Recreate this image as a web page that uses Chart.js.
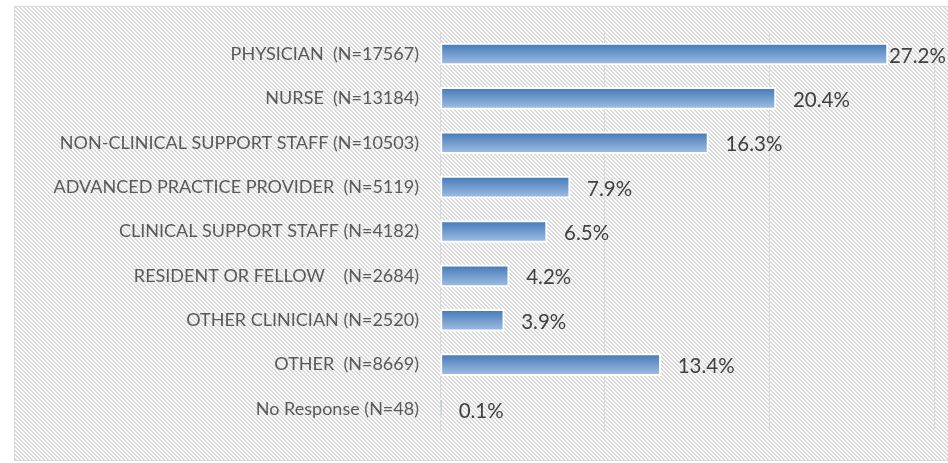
<!DOCTYPE html>
<html>
<head>
<meta charset="utf-8">
<style>
  html, body { margin: 0; padding: 0; background: #fff; }
  #wrap { width: 948px; height: 463px; position: relative; }
</style>
</head>
<body>
<div id="wrap">
  <canvas id="myChart"></canvas>
</div>

<script src="https://cdn.jsdelivr.net/npm/chart.js"></script>

<script>
  const categories = [
    'PHYSICIAN  (N=17567)',
    'NURSE  (N=13184)',
    'NON-CLINICAL SUPPORT STAFF (N=10503)',
    'ADVANCED PRACTICE PROVIDER  (N=5119)',
    'CLINICAL SUPPORT STAFF (N=4182)',
    'RESIDENT OR FELLOW    (N=2684)',
    'OTHER CLINICIAN (N=2520)',
    'OTHER  (N=8669)',
    'No Response (N=48)'
  ];
  const percents = [27.2, 20.4, 16.3, 7.9, 6.5, 4.2, 3.9, 13.4, 0.1];
  const xTicks = [0, 10, 20, 30];

  // striped background like the excel chart area
  function makeHatch(ctx) {
    const tile = document.createElement('canvas');
    tile.width = 4; tile.height = 4;
    const t = tile.getContext('2d');
    const img = t.createImageData(4, 4);
    for (let y = 0; y < 4; y++) {
      for (let x = 0; x < 4; x++) {
        const i = (y * 4 + x) * 4;
        const on = ((x - y + 8) % 4) < 2;
        const c = on ? 217 : 255;
        img.data[i] = c; img.data[i + 1] = c; img.data[i + 2] = c; img.data[i + 3] = 255;
      }
    }
    t.putImageData(img, 0, 0);
    return ctx.createPattern(tile, 'repeat');
  }

  const background = {
    id: 'background',
    beforeDraw(chart) {
      const c = chart.ctx;
      c.save();
      c.fillStyle = '#ffffff';
      c.fillRect(0, 0, chart.width, chart.height);
      c.fillStyle = makeHatch(c);
      c.fillRect(14, 6, chart.width - 14, 455);
      c.strokeStyle = '#d9d9d9';
      c.lineWidth = 1;
      c.strokeRect(14.5, 6.5, chart.width, 454);
      c.restore();
    }
  };

  const valueLabels = {
    id: 'valueLabels',
    afterDatasetsDraw(chart) {
      const c = chart.ctx;
      const meta = chart.getDatasetMeta(0);
      c.save();
      c.font = '20.5px Lato, sans-serif';
      c.fillStyle = '#404040';
      c.textBaseline = 'middle';
      c.textAlign = 'left';
      meta.data.forEach((bar, i) => {
        const txt = percents[i].toFixed(1) + '%';
        let x = bar.x + 17;
        if (x + c.measureText(txt).width > chart.width) x = bar.x + 1;
        c.fillText(txt, x, bar.y + 2);
      });
      c.restore();
    }
  };

  function barFill(context) {
    const chart = context.chart;
    const y = chart.scales && chart.scales.y;
    const cy = y ? y.getPixelForValue(context.dataIndex) : NaN;
    if (!isFinite(cy)) return '#6f97cb';
    const g = chart.ctx.createLinearGradient(0, cy - 9, 0, cy + 9);
    g.addColorStop(0, '#4a7ebb');
    g.addColorStop(1, '#9ab9df');
    return g;
  }

  const ctx = document.getElementById('myChart');
  new Chart(ctx, {
    type: 'bar',
    data: {
      labels: categories,
      datasets: [{
        data: percents,
        backgroundColor: barFill,
        borderColor: '#ffffff',
        borderWidth: 2,
        borderSkipped: false,
        barThickness: 22
      }]
    },
    options: {
      indexAxis: 'y',
      responsive: true,
      maintainAspectRatio: false,
      animation: false,
      layout: { padding: { top: 28, bottom: 29, left: 0, right: 14 } },
      plugins: {
        legend: { display: false },
        tooltip: { enabled: false }
      },
      scales: {
        x: {
          min: xTicks[0],
          max: xTicks[xTicks.length - 1],
          afterBuildTicks: (scale) => { scale.ticks = xTicks.map(v => ({ value: v })); },
          ticks: { display: false },
          grid: { color: '#d9d9d9', lineWidth: 1, drawTicks: false },
          border: { display: false }
        },
        y: {
          afterFit: (scale) => { scale.width = 440; },
          grid: { display: false, drawTicks: false },
          border: { display: false },
          ticks: {
            padding: 21,
            color: '#595959',
            font: { family: 'Lato, sans-serif', size: 18 }
          }
        }
      }
    },
    plugins: [background, valueLabels]
  });
</script>
</body>
</html>
